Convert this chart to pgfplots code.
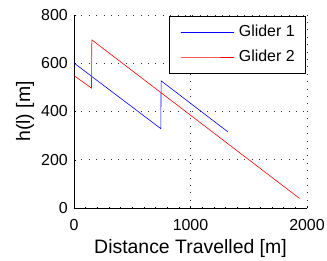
\documentclass[border=0pt]{standalone}
\usepackage{pgfplots}
\pgfplotsset{compat=1.18}
\usepackage{fontspec}
\setmainfont{Liberation Sans}
\begin{document}
\begin{tikzpicture}
\begin{axis}[
  scale only axis,
  width=233bp, height=193bp,
  xmin=0, xmax=2000, ymin=0, ymax=800,
  xtick={0,1000,2000}, ytick={0,200,400,600,800},
  axis x line*=bottom, axis y line*=left,
  axis line style={black, line width=0.6pt, -},
  tick style={black, line width=0.5pt},
  tick align=inside,
  major tick length=2.5bp,
  minor tick length=1.5bp,
  minor x tick num=9, minor y tick num=3,
  grid=major,
  major grid style={black!80, line width=0.7pt, dash pattern=on 0.9bp off 6.5bp},
  /pgf/number format/assume math mode=true,
  /pgf/number format/1000 sep={},
  xticklabel style={font=\fontsize{16}{18}\selectfont, anchor=base, inner sep=0pt, yshift=-22bp},
  yticklabel style={font=\fontsize{16}{18}\selectfont, anchor=east, inner sep=0pt, xshift=-6bp},
  xlabel={Distance Travelled [m]},
  ylabel={h(l) [m]},
  every axis x label/.style={at={(axis description cs:0.5,-0.2332)}, anchor=base, font=\fontsize{19.5}{22}\selectfont},
  every axis y label/.style={at={(axis description cs:-0.1888,0.5)}, rotate=90, anchor=base, font=\fontsize{19.5}{22}\selectfont},
  legend style={at={(rel axis cs:1,1)}, anchor=north east, xshift=-1bp, yshift=-1bp,
    line width=0.6pt, font=\fontsize{16}{18}\selectfont, legend cell align=left,
    inner xsep=11bp, inner ysep=8.3bp, row sep=8.4bp, column sep=5bp,
    nodes={inner sep=0pt, text height=12bp, text depth=4bp}},
  legend image post style={xscale=3.117},
]
\addplot[blue, line width=0.6pt] coordinates {(0,601) (745,329) (748,527) (1320,316)};
\addplot[red, line width=0.6pt] coordinates {(0,549) (150,497) (153,697) (1935,40)};
\legend{Glider 1, Glider 2}
\end{axis}
\pgfresetboundingbox
\path (current axis.south west) ++(-74bp,-53bp) rectangle ++(327bp,261bp);
\end{tikzpicture}
\end{document}
